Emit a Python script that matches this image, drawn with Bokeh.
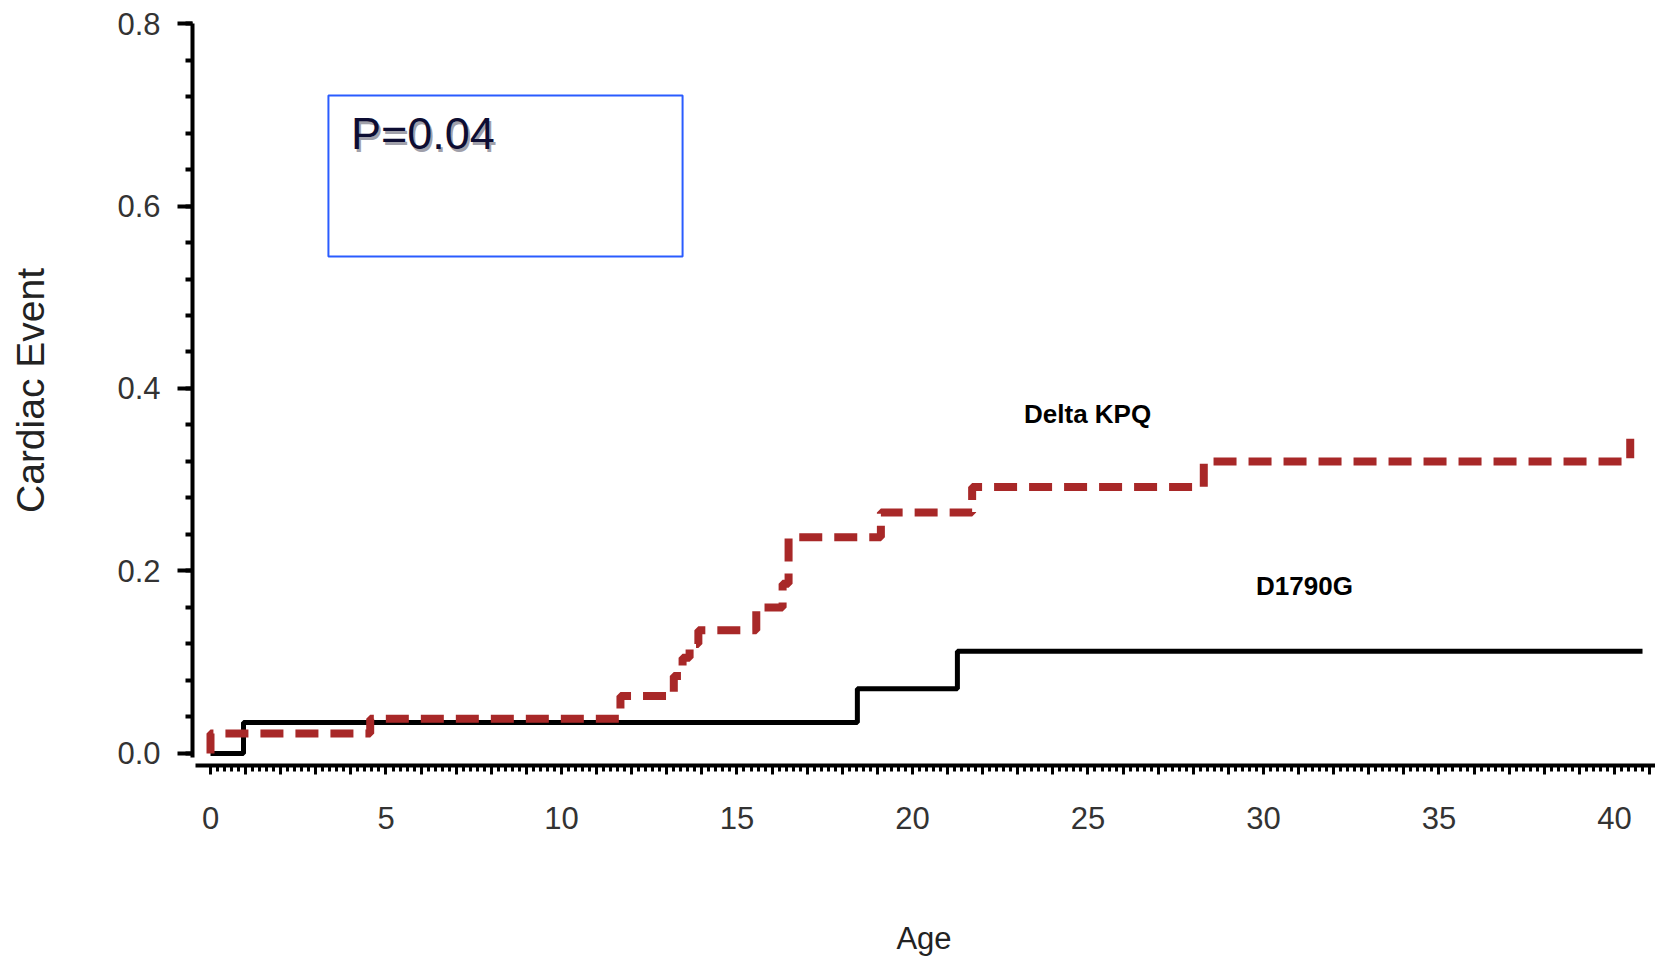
from bokeh.plotting import figure
from bokeh.models import FixedTicker, Range1d
from bokeh.embed import file_html
from bokeh.resources import INLINE
from bokeh.core.properties import value

# ---- data ----
kpq_age = [0, 0, 4.55, 11.68, 13.2, 13.45, 13.65, 13.9, 15.55, 16.3, 16.47, 19.1, 21.7, 28.3, 40.45]
kpq_event = [0, 0.022, 0.038, 0.063, 0.085, 0.105, 0.12, 0.135, 0.16, 0.186, 0.237, 0.264, 0.292, 0.32, 0.345]

d1790g_age = [0, 0.94, 18.43, 21.28, 40.8]
d1790g_event = [0, 0.034, 0.071, 0.112, 0.112]

y_ticks = [0.0, 0.2, 0.4, 0.6, 0.8]
y_tick_labels = ["0.0", "0.2", "0.4", "0.6", "0.8"]
x_ticks = [0, 5, 10, 15, 20, 25, 30, 35, 40]
x_tick_labels = ["0", "5", "10", "15", "20", "25", "30", "35", "40"]

series_names = ["Delta KPQ", "D1790G"]
p_value_text = "P=0.04"

# ---- figure ----
p = figure(width=1655, height=960, output_backend="svg", toolbar_location=None,
           x_range=Range1d(-0.513, 41.17), y_range=Range1d(-0.0132, 0.8088),
           min_border_left=192, min_border_right=0, min_border_top=15, min_border_bottom=195,
           background_fill_color="white", border_fill_color="white")
p.outline_line_color = None
p.grid.visible = False

# y axis
ya = p.yaxis[0]
ya.ticker = FixedTicker(ticks=y_ticks, minor_ticks=[i * 0.04 for i in range(21)])
ya.major_label_overrides = {t: l for t, l in zip(y_ticks, y_tick_labels)}
ya.bounds = (-0.004, 0.8)
ya.axis_line_width = 4
ya.axis_line_color = "black"
ya.major_tick_line_width = 4
ya.major_tick_out = 15
ya.major_tick_in = 0
ya.minor_tick_line_width = 4
ya.minor_tick_out = 7
ya.minor_tick_in = 0
ya.major_label_standoff = 17
ya.major_label_text_font = "Liberation Sans"
ya.major_label_text_font_size = "31px"
ya.major_label_text_color = "#333333"
ya.axis_label = "Cardiac Event"
ya.axis_label_text_font = "Liberation Sans"
ya.axis_label_text_font_size = "39px"
ya.axis_label_text_font_style = "normal"
ya.axis_label_text_color = "#222222"
ya.axis_label_standoff = 62

# x axis
xa = p.xaxis[0]
all_x = list(range(0, 42))
xa.ticker = FixedTicker(ticks=all_x, minor_ticks=[round(i * 0.2, 2) for i in range(0, 207)])
overrides = {t: "" for t in all_x}
for t, l in zip(x_ticks, x_tick_labels):
    overrides[t] = l
xa.major_label_overrides = overrides
xa.bounds = (-0.43, 41.2)
xa.axis_line_width = 4
xa.axis_line_color = "black"
xa.major_tick_line_width = 3
xa.major_tick_out = 9
xa.major_tick_in = 0
xa.minor_tick_line_width = 3
xa.minor_tick_out = 6
xa.minor_tick_in = 0
xa.major_label_standoff = 32
xa.major_label_text_font = "Liberation Sans"
xa.major_label_text_font_size = "31px"
xa.major_label_text_color = "#333333"
xa.axis_label = "Age"
xa.axis_label_text_font = "Liberation Sans"
xa.axis_label_text_font_size = "31px"
xa.axis_label_text_font_style = "normal"
xa.axis_label_text_color = "#222222"
xa.axis_label_standoff = 89

# ---- curves ----
p.step(d1790g_age, d1790g_event, mode="after", line_color="black", line_width=5)
p.step(kpq_age, kpq_event, mode="after", line_color="#a82828", line_width=8,
       line_dash="23 12")

# ---- curve labels ----
p.text(x=[24.99], y=[0.3715], text=[series_names[0]], text_font=value("Liberation Sans"),
       text_font_style="bold", text_font_size="26px", text_color="black",
       text_align="center", text_baseline="middle")
p.text(x=[31.17], y=[0.183], text=[series_names[1]], text_font=value("Liberation Sans"),
       text_font_style="bold", text_font_size="26px", text_color="black",
       text_align="center", text_baseline="middle")

# ---- P-value box ----
p.quad(left=[3.36], right=[13.45], bottom=[0.5447], top=[0.721],
       fill_color=None, line_color="#2a5cff", line_width=2)
p.text(x=[4.0], y=[0.679], text=[p_value_text], text_font=value("Liberation Sans"),
       text_font_size="45px", text_color="#a0a0aa", text_align="left",
       text_baseline="alphabetic", x_offset=2, y_offset=3)
p.text(x=[4.0], y=[0.679], text=[p_value_text], text_font=value("Liberation Sans"),
       text_font_size="45px", text_color="#0d0d33", text_align="left",
       text_baseline="alphabetic")

open("out.html", "w").write(file_html(p, INLINE))
